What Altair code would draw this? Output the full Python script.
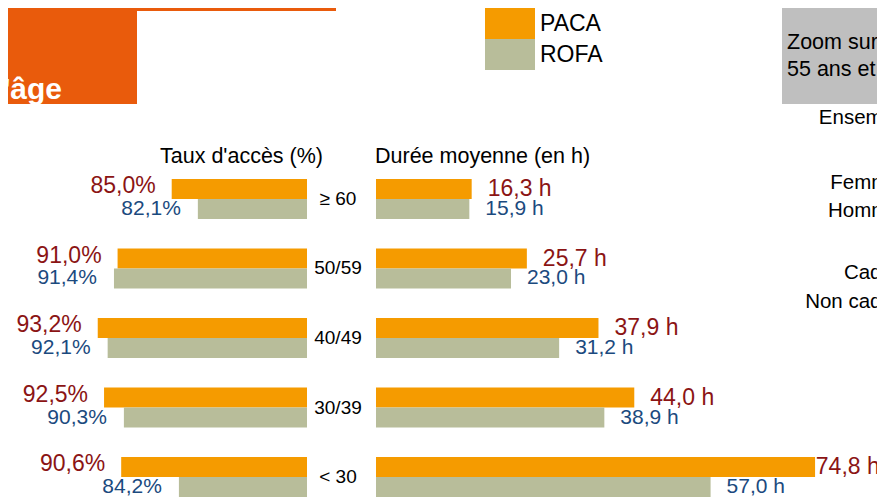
import altair as alt
import pandas as pd

# ---------------- data ----------------
ages = ["≥ 60", "50/59", "40/49", "30/39", "< 30"]
series = ["PACA", "ROFA"]
taux_paca = [85.0, 91.0, 93.2, 92.5, 90.6]
taux_rofa = [82.1, 91.4, 92.1, 90.3, 84.2]
duree_paca = [16.3, 25.7, 37.9, 44.0, 74.8]
duree_rofa = [15.9, 23.0, 31.2, 38.9, 57.0]
side_labels = ["Ensemble", "Femmes", "Hommes", "Cadres", "Non cadres"]

# ---------------- styles ----------------
colors = ["#F59B00", "#B8BD9A"]
FONT = "Liberation Sans"
RED = "#8B1414"
BLUE = "#1B4A7E"
HEAD = "#E95B0C"
W, H = 869, 489


def fr(v, unit):
    return f"{v:.1f}".replace(".", ",") + unit


rows = []
for i, a in enumerate(ages):
    for s, t, d in (("PACA", taux_paca[i], duree_paca[i]),
                    ("ROFA", taux_rofa[i], duree_rofa[i])):
        rows.append({"age": a, "serie": s, "taux": t, "duree": d,
                     "taux_lbl": fr(t, "%"), "duree_lbl": fr(d, " h")})
df = pd.DataFrame(rows)
one = pd.DataFrame({"k": [0]})

y_enc = alt.Y("age:N", sort=ages, axis=None,
              scale=alt.Scale(domain=ages, range=[171, 489],
                              paddingInner=0.4245, paddingOuter=0))
yo_enc = alt.YOffset("serie:N", sort=series,
                     scale=alt.Scale(domain=series, paddingInner=0, paddingOuter=0))
color_enc = alt.Color(
    "serie:N", sort=series,
    scale=alt.Scale(domain=series, range=colors),
    legend=alt.Legend(title=None, orient="none", legendX=486.5, legendY=0,
                      symbolType="M-1.613,-1H1.613V1H-1.613Z", symbolSize=961,
                      symbolStrokeWidth=0, symbolOpacity=1,
                      labelFontSize=23, labelFont=FONT, labelColor="black",
                      labelOffset=14.5, rowPadding=0, padding=0),
)

x_taux = alt.Scale(domain=[70, 100], range=[299, 28.4], zero=False)
x_duree = alt.Scale(domain=[0, 100], range=[368, 955])

base = alt.Chart(df)

# ---- taux d'accès ----
bars_t = base.mark_bar().encode(
    x=alt.X("taux:Q", scale=x_taux, axis=None), x2=alt.datum(70),
    y=y_enc, yOffset=yo_enc, color=color_enc)
txt_tp = base.transform_filter(alt.datum.serie == "PACA").mark_text(
    align="right", baseline="middle", dx=-16, dy=-3, fontSize=23, color=RED, font=FONT
).encode(x=alt.X("taux:Q", scale=x_taux, axis=None), y=y_enc, yOffset=yo_enc, text="taux_lbl:N")
txt_tr = base.transform_filter(alt.datum.serie == "ROFA").mark_text(
    align="right", baseline="middle", dx=-17, fontSize=21, color=BLUE, font=FONT
).encode(x=alt.X("taux:Q", scale=x_taux, axis=None), y=y_enc, yOffset=yo_enc, text="taux_lbl:N")
taux_layer = alt.layer(bars_t, txt_tp, txt_tr)

# ---- durée moyenne ----
bars_d = base.mark_bar().encode(
    x=alt.X("duree:Q", scale=x_duree, axis=None), x2=alt.datum(0),
    y=y_enc, yOffset=yo_enc, color=color_enc)
txt_dp = base.transform_filter(alt.datum.serie == "PACA").transform_calculate(
    lx="min(datum.duree, 72.2)"
).mark_text(
    align="left", baseline="middle", dx=16, fontSize=23, color=RED, font=FONT
).encode(x=alt.X("lx:Q", scale=x_duree, axis=None), y=y_enc, yOffset=yo_enc, text="duree_lbl:N")
txt_dr = base.transform_filter(alt.datum.serie == "ROFA").mark_text(
    align="left", baseline="middle", dx=16, fontSize=21, color=BLUE, font=FONT
).encode(x=alt.X("duree:Q", scale=x_duree, axis=None), y=y_enc, yOffset=yo_enc, text="duree_lbl:N")
duree_layer = alt.layer(bars_d, txt_dp, txt_dr)

# ---- category labels ----
cats = alt.Chart(pd.DataFrame({"age": ages})).mark_text(
    align="center", baseline="middle", fontSize=19, color="black", font=FONT
).encode(x=alt.value(330), y=y_enc, text="age:N")


# ---- decorations ----
def box(x, x2, y, y2, color):
    return alt.Chart(one).mark_rect(color=color).encode(
        x=alt.value(x), x2=alt.value(x2), y=alt.value(y), y2=alt.value(y2))


def label(txt, x, y, size, align="left", color="black", weight="normal", baseline="middle"):
    return alt.Chart(one).mark_text(
        text=txt, align=align, baseline=baseline, fontSize=size, color=color,
        fontWeight=weight, font=FONT
    ).encode(x=alt.value(x), y=alt.value(y))


deco = [
    box(-8, 129, -8, 96, HEAD),
    box(129, 328, -4, 3, HEAD),
    label("'âge", 54, 91, 30, align="right", color="white", weight="bold", baseline="alphabetic"),
    box(774, 900, 0, 96, "#BFBFBF"),
    label("Zoom sur les", 779, 35, 21.5),
    label("55 ans et +", 779, 62, 21.5),
    label("Taux d'accès (%)", 152, 149, 21.5),
    label("Durée moyenne (en h)", 367, 149, 21.5),
]
side_y = [110, 175, 203, 265, 294]
for t, yy in zip(side_labels, side_y):
    deco.append(label(t, 902, yy, 20.5, align="right"))

chart = alt.layer(
    *deco, cats, taux_layer, duree_layer
).resolve_scale(x="independent").properties(
    width=W, height=H, padding=0,
    autosize=alt.AutoSizeParams(type="none"),
    background="white",
).configure_view(stroke=None)

chart.save("out.html", embed_options={"renderer": "svg", "actions": False})
